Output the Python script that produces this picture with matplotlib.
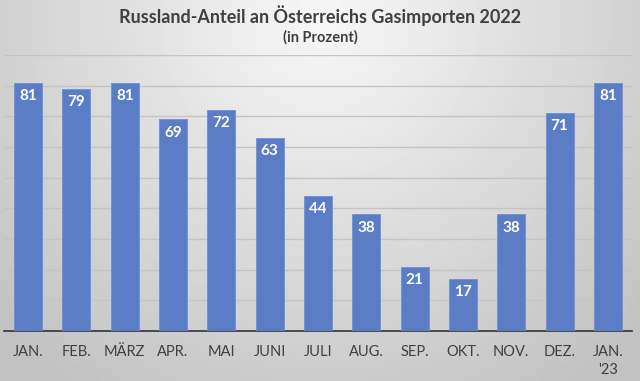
import numpy as np
import matplotlib.pyplot as plt

monate = ["JAN.", "FEB.", "MÄRZ", "APR.", "MAI", "JUNI", "JULI", "AUG.", "SEP.", "OKT.", "NOV.", "DEZ.", "JAN.\n'23"]
anteil = [81, 79, 81, 69, 72, 63, 44, 38, 21, 17, 38, 71, 81]

plt.rcParams['font.family'] = ['Lato', 'DejaVu Sans']

fig = plt.figure(figsize=(6.4, 3.81), dpi=100)

# radial grey background
bg = fig.add_axes([0, 0, 1, 1], zorder=-10)
yy, xx = np.mgrid[0:381, 0:640]
r = np.sqrt(((xx - 320) / 420.0) ** 2 + ((yy - 20) / 420.0) ** 2)
shade = np.clip(0.97 - 0.20 * r, 0.76, 0.97)
bg.imshow(shade, cmap='gray', vmin=0, vmax=1, aspect='auto', extent=[0, 1, 0, 1], origin='upper')
bg.axis('off')

ax = fig.add_axes([4 / 640, 50 / 381, 628 / 640, 276 / 381])
ax.set_facecolor('none')
x = np.arange(len(monate))
bars = ax.bar(x, anteil, width=0.58, color='#5A7DC6', edgecolor='#7090d0', linewidth=0.6, zorder=3)
ax.set_xlim(-0.5, len(monate) - 0.5)
ax.set_ylim(0, 90)
ax.set_yticks(range(0, 91, 10))
ax.yaxis.grid(True, color='#c4c4c4', linewidth=1.0, zorder=0)
ax.set_yticklabels([])
ax.tick_params(axis='y', length=0)
for s in ['top', 'right', 'left']:
    ax.spines[s].set_visible(False)
ax.spines['bottom'].set_color('#333333')
ax.spines['bottom'].set_linewidth(1.2)
ax.set_xticks(x)
ax.set_xticklabels(monate, fontsize=10.5, color='#404040', linespacing=1.35, va='top')
ax.tick_params(axis='x', length=0, pad=10)

for xi, v in zip(x, anteil):
    ax.annotate(str(v), (xi, v), xytext=(0, -9.5), textcoords='offset points',
                ha='center', va='center', color='white', fontsize=11, fontweight='bold', zorder=4)

fig.text(0.5, 1 - 16 / 381, "Russland-Anteil an Österreichs Gasimporten 2022", ha='center', va='center',
         fontsize=13, fontweight='bold', color='#404040')
fig.text(0.5, 1 - 37 / 381, "(in Prozent)", ha='center', va='center',
         fontsize=10.5, fontweight='bold', color='#404040')

fig.savefig('out.png', dpi=100)
